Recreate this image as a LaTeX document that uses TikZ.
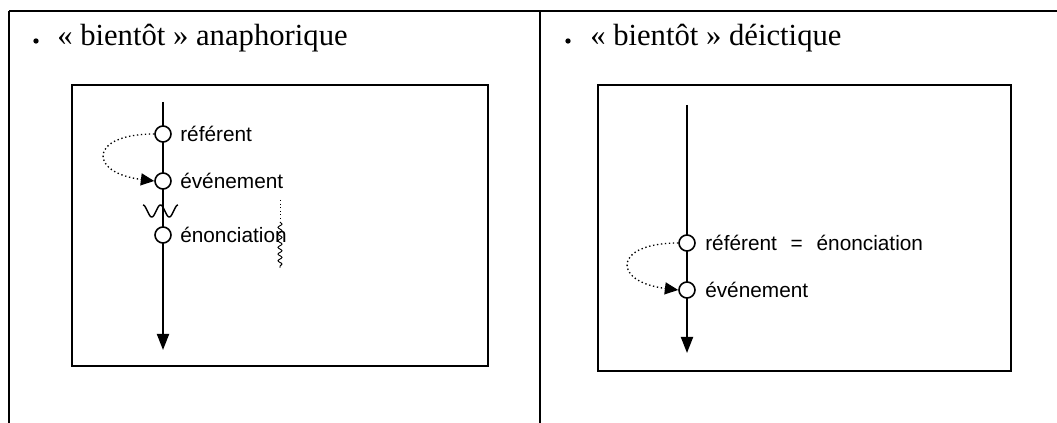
\documentclass[tikz,border=0pt]{standalone}
\usepackage{fontspec}
\setmainfont{Liberation Serif}
\newfontfamily\labelfont{Liberation Sans}
\usetikzlibrary{arrows.meta,decorations.pathmorphing}

\begin{document}
\begin{tikzpicture}[x=0.75pt, y=-0.75pt,
  instant/.style={draw, fill=white, circle, line width=1.2pt, minimum size=12pt, inner sep=0pt},
  timeline/.style={line width=1.4pt, -{Triangle[length=12pt, width=9pt]}},
  loopback/.style={dotted, line width=1pt, -{Triangle[length=10pt, width=9pt]}},
  tag/.style={anchor=west, inner sep=0pt, font=\labelfont\fontsize{15.6pt}{15.6pt}\selectfont},
  heading/.style={anchor=base west, inner sep=0pt, font=\fontsize{23pt}{23pt}\selectfont},
  dot/.style={circle, fill, inner sep=0pt, minimum size=4pt},
  frame/.style={draw, line width=1.2pt}]%
\useasboundingbox (0,0) rectangle (1057,423);%
\draw[line width=1.6pt] (9,11) -- (1057,11);%
\draw[line width=1pt] (9,11) -- (9,423);%
\draw[line width=1pt] (540,11) -- (540,423);%
\node[dot] (bulletA) at (36,41) {};%
\node[heading] (titleA) at (57,46) {« bientôt » anaphorique};%
\node[dot] (bulletB) at (568,41) {};%
\node[heading] (titleB) at (590,46) {« bientôt » déictique};%
\draw[frame] (72,85) rectangle (488,366);%
\draw[frame] (598,85) rectangle (1011,371);%
\coordinate (topA) at (163,102);%
\coordinate (endA) at (163,350);%
\draw[timeline] (topA) -- (endA);%
\draw[line width=1.1pt] plot[domain=0:2, samples=50, smooth] ({143+17.5*\x},{211-6*cos(360*\x)});%
\node[instant] (refA) at (163,134) {};%
\node[instant] (evtA) at (163,181) {};%
\node[instant] (enoA) at (163,235) {};%
\node[tag] (refAtag) at (180,134) {référent};%
\node[tag] (evtAtag) at (180,181) {événement};%
\node[tag] (enoAtag) at (180,235) {énonciation};%
\draw[loopback] (refA.west) .. controls +(-66,0) and +(-66,-8) .. (evtA.west);%
\draw[line width=0.7pt, dotted] (280,200) -- (280,220);%
\draw[line width=0.7pt, decorate, decoration={snake, amplitude=1.5pt, segment length=5pt}] (280,222) -- (280,268);%
\coordinate (topB) at (687,105);%
\coordinate (endB) at (687,353);%
\draw[timeline] (topB) -- (endB);%
\node[instant] (refB) at (687,243) {};%
\node[instant] (evtB) at (687,290) {};%
\node[tag] (refBtag) at (705,243) {référent\ \hspace{6pt}=\ \hspace{6pt}énonciation};%
\node[tag] (evtBtag) at (705,290) {événement};%
\draw[loopback] (refB.west) .. controls +(-66,0) and +(-66,-8) .. (evtB.west);%
\end{tikzpicture}
\end{document}
